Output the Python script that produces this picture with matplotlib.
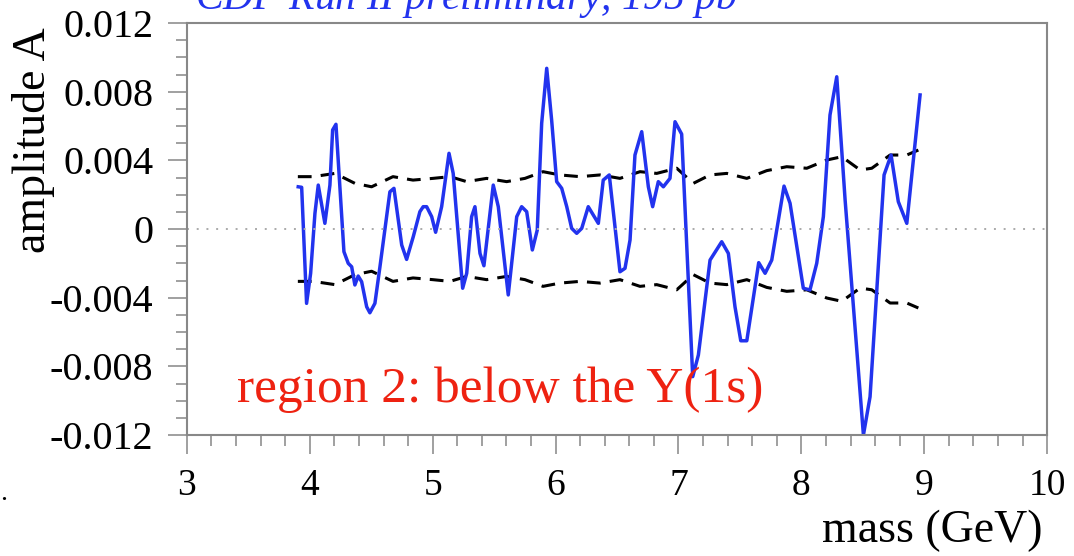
import numpy as np
import matplotlib
matplotlib.use("Agg")
import matplotlib.pyplot as plt
from matplotlib.ticker import MultipleLocator

# amplitude scan (blue)
mass = [3.906, 3.934, 3.974, 4.007, 4.042, 4.069, 4.123, 4.164, 4.186, 4.213,
        4.278, 4.313, 4.341, 4.367, 4.394, 4.422, 4.463, 4.489, 4.530, 4.571,
        4.652, 4.685, 4.748, 4.788, 4.842, 4.896, 4.923, 4.951, 4.992, 5.024,
        5.073, 5.133, 5.167, 5.244, 5.277, 5.317, 5.344, 5.385, 5.417, 5.493,
        5.534, 5.615, 5.684, 5.724, 5.765, 5.811, 5.851, 5.887, 5.928, 5.968,
        6.009, 6.050, 6.091, 6.131, 6.172, 6.213, 6.266, 6.348, 6.388, 6.437,
        6.524, 6.565, 6.606, 6.646, 6.701, 6.755, 6.790, 6.836, 6.877, 6.931,
        6.972, 7.026, 7.116, 7.162, 7.257, 7.352, 7.406, 7.460, 7.507, 7.556,
        7.653, 7.705, 7.759, 7.859, 7.908, 8.016, 8.070, 8.125, 8.179, 8.233,
        8.288, 8.356, 8.505, 8.559, 8.673, 8.730, 8.789, 8.858, 8.966]
amplitude = [0.00246, 0.00243, -0.00433, -0.00258, 0.00091, 0.00256, 0.00033, 0.00256, 0.00577, 0.00610,
             -0.00132, -0.00200, -0.00220, -0.00326, -0.00274, -0.00307, -0.00453, -0.00488, -0.00433, -0.00220,
             0.00217, 0.00237, -0.00093, -0.00177, -0.00045, 0.00101, 0.00130, 0.00130, 0.00072, -0.00019,
             0.00130, 0.00441, 0.00324, -0.00345, -0.00258, 0.00072, 0.00130, -0.00142, -0.00214, 0.00256,
             0.00130, -0.00384, 0.00072, 0.00130, 0.00101, -0.00122, -0.00006, 0.00616, 0.00936, 0.00635,
             0.00276, 0.00237, 0.00130, 0.00004, -0.00025, 0.00004, 0.00130, 0.00033, 0.00285, 0.00315,
             -0.00249, -0.00229, -0.00064, 0.00431, 0.00567, 0.00246, 0.00130, 0.00276, 0.00246, 0.00295,
             0.00625, 0.00553, -0.00860, -0.00734, -0.00181, -0.00074, -0.00142, -0.00453, -0.00651, -0.00651,
             -0.00196, -0.00258, -0.00181, 0.00250, 0.00150, -0.00345, -0.00355, -0.00200, 0.00072, 0.00664,
             0.00887, 0.00169, -0.01200, -0.00977, 0.00315, 0.00431, 0.00159, 0.00033, 0.00781]

# +/- error band (black dashed)
band_mass = [3.903, 4.028, 4.205, 4.367, 4.503, 4.677, 4.840, 5.002, 5.141, 5.277,
             5.439, 5.602, 5.751, 5.898, 6.036, 6.199, 6.362, 6.524, 6.687, 6.823,
             6.986, 7.121, 7.257, 7.393, 7.556, 7.718, 7.881, 8.044, 8.207, 8.329,
             8.478, 8.573, 8.722, 8.858, 8.952]
band_sigma = [0.00305, 0.00305, 0.00324, 0.00266, 0.00246, 0.00305, 0.00285, 0.00295, 0.00305, 0.00276,
              0.00295, 0.00276, 0.00295, 0.00334, 0.00315, 0.00305, 0.00315, 0.00295, 0.00334, 0.00324,
              0.00354, 0.00266, 0.00315, 0.00324, 0.00295, 0.00340, 0.00363, 0.00354, 0.00402, 0.00421,
              0.00344, 0.00354, 0.00431, 0.00431, 0.00460]

y_ticks = [-0.012, -0.008, -0.004, 0, 0.004, 0.008, 0.012]
y_tick_labels = ["-0.012", "-0.008", "-0.004", "0", "0.004", "0.008", "0.012"]
x_ticks = [3, 4, 5, 6, 7, 8, 9, 10]

plt.rcParams['font.family'] = ['Liberation Serif', 'DejaVu Serif']
plt.rcParams['axes.unicode_minus'] = False

fig = plt.figure(figsize=(10.74, 5.56), dpi=100)
ax = fig.add_axes([0.174, 0.2176, 0.801, 0.741])

band = np.array(band_sigma)
dash = (0, (4.5, 3.0))
ax.plot(band_mass, band, color='black', lw=2.2, linestyle=dash)
ax.plot(band_mass, -band, color='black', lw=2.2, linestyle=dash)
ax.plot(mass, amplitude, color='#2233ee', lw=2.5)
ax.axhline(0, color='#aaaaaa', lw=1.4, linestyle=(0, (1, 4)))

ax.set_xlim(3, 10)
ax.set_ylim(-0.012, 0.012)
ax.set_xticks(x_ticks)
ax.set_yticks(y_ticks)
ax.set_yticklabels(y_tick_labels)
ax.xaxis.set_minor_locator(MultipleLocator(0.2))
ax.yaxis.set_minor_locator(MultipleLocator(0.001))

for s in ax.spines.values():
    s.set_color('#888888')
    s.set_linewidth(1.5)
ax.tick_params(which='both', direction='out', color='#999999', width=1.3)
ax.tick_params(which='major', length=14)
ax.tick_params(which='minor', length=8)
ax.tick_params(axis='y', labelsize=29, pad=10)
ax.tick_params(axis='x', labelsize=27, pad=10)

ax.set_ylabel("amplitude A", fontsize=33)
ax.yaxis.set_label_coords(-0.153, 0.716)
ax.set_xlabel("mass (GeV)", fontsize=33)
ax.xaxis.set_label_coords(0.867, -0.18)

ax.text(0.058, 0.080, "region 2: below the Y(1s)", transform=ax.transAxes,
        color='#ee2211', fontsize=37, va='baseline', ha='left')

fig.text(195 / 1074, 1 - 10 / 556, r"CDF Run II preliminary, 195 pb$^{-1}$",
         color='#2233ee', fontsize=30, style='italic', va='baseline', ha='left')
fig.text(0.0, 1 - 500 / 556, ".", fontsize=20, va='baseline', ha='left')

fig.savefig("out.png", dpi=100)
